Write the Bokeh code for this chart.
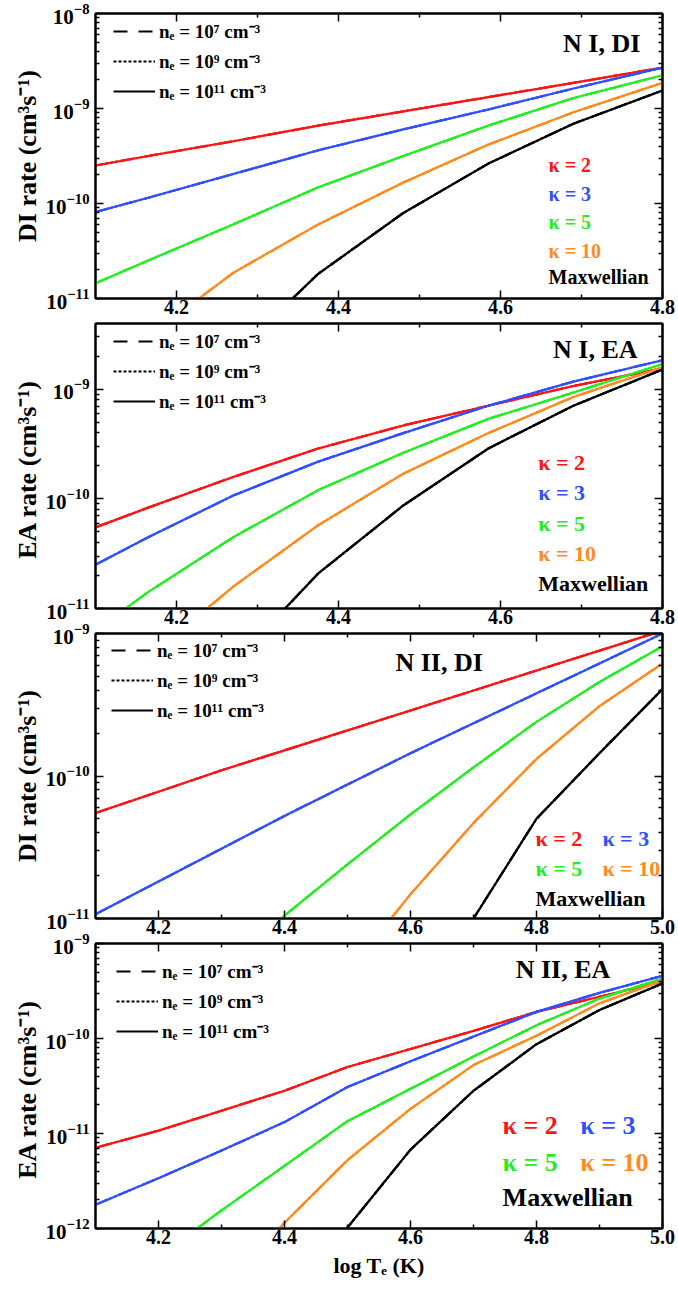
import numpy as np
from bokeh.plotting import figure
from bokeh.layouts import column
from bokeh.models import (Range1d, FixedTicker, LinearAxis, LogAxis, LogTickFormatter,
                          NumeralTickFormatter, CustomJSTickFormatter, Legend, LegendItem, Label)
from bokeh.embed import file_html
from bokeh.resources import INLINE

FONT = "Liberation Serif"

# ---- data: log10 of the rate coefficients (cm^3 s^-1) versus log T_e (K) ----
logT_NI = [4.1, 4.165, 4.27, 4.375, 4.48, 4.585, 4.69, 4.8]
logT_NII = [4.1, 4.2, 4.3, 4.4, 4.5, 4.6, 4.7, 4.8, 4.9, 5.0]

# N I, direct ionization
ni_di_k2 = [-9.60, -9.50, -9.345, -9.18, -9.03, -8.88, -8.73, -8.57]
ni_di_k3 = [-10.09, -9.94, -9.69, -9.44, -9.22, -9.01, -8.79, -8.57]
ni_di_k5 = [-10.84, -10.60, -10.22, -9.83, -9.50, -9.18, -8.89, -8.65]
ni_di_k10 = [-11.60, -11.40, -10.73, -10.22, -9.78, -9.38, -9.04, -8.73]
ni_di_max = [-13.0, -12.5, -11.6, -10.74, -10.10, -9.58, -9.16, -8.81]

# N I, excitation-autoionization
ni_ea_k2 = [-10.26, -10.08, -9.80, -9.54, -9.33, -9.15, -8.97, -8.81]
ni_ea_k3 = [-10.60, -10.35, -9.97, -9.66, -9.40, -9.15, -8.93, -8.735]
ni_ea_k5 = [-11.20, -10.85, -10.35, -9.92, -9.58, -9.27, -9.03, -8.77]
ni_ea_k10 = [-11.80, -11.45, -10.80, -10.24, -9.77, -9.40, -9.07, -8.80]
ni_ea_max = [-13.0, -12.3, -11.5, -10.68, -10.06, -9.54, -9.15, -8.82]

# N II, direct ionization
nii_di_k2 = [-10.26, -10.11, -9.96, -9.82, -9.68, -9.54, -9.40, -9.26, -9.12, -8.98]
nii_di_k3 = [-10.97, -10.74, -10.51, -10.28, -10.06, -9.84, -9.63, -9.42, -9.21, -9.00]
nii_di_k5 = [-12.1, -11.72, -11.35, -10.98, -10.62, -10.27, -9.94, -9.62, -9.34, -9.09]
nii_di_k10 = [-13.6, -13.0, -12.45, -11.92, -11.38, -10.83, -10.33, -9.88, -9.51, -9.21]
nii_di_max = [-15.8, -15.0, -14.2, -13.4, -12.6, -11.8, -11.0, -10.30, -9.84, -9.39]

# N II, excitation-autoionization
nii_ea_k2 = [-11.15, -10.97, -10.76, -10.55, -10.30, -10.11, -9.92, -9.72, -9.56, -9.40]
nii_ea_k3 = [-11.75, -11.47, -11.18, -10.88, -10.51, -10.24, -9.98, -9.72, -9.52, -9.34]
nii_ea_k5 = [-12.8, -12.3, -11.81, -11.34, -10.87, -10.53, -10.19, -9.86, -9.58, -9.37]
nii_ea_k10 = [-14.2, -13.4, -12.7, -11.94, -11.28, -10.74, -10.28, -9.97, -9.63, -9.39]
nii_ea_max = [-16.0, -15.0, -13.9, -12.9, -11.99, -11.17, -10.55, -10.06, -9.70, -9.42]

kappa_names = ["κ = 2", "κ = 3", "κ = 5", "κ = 10", "Maxwellian"]
kappa_colors = ["#ff1414", "#3050ff", "#22ee22", "#ff8a1e", "#000000"]

density_labels = ["nₑ = 10⁷ cm⁻³", "nₑ = 10⁹ cm⁻³", "nₑ = 10¹¹ cm⁻³"]
density_dashes = ["14 11", "3 2", "solid"]

x_ticks_short = [4.2, 4.4, 4.6, 4.8]
x_minor_short = [4.3, 4.5, 4.7]
x_ticks_long = [4.2, 4.4, 4.6, 4.8, 5.0]
x_minor_long = [4.3, 4.5, 4.7, 4.9]

FRAME_W, FRAME_H = 567, 285
TOP, BOTTOM, OVERLAP = 14, 36, 25   # panels share a 25 px gap; canvases overlap


def decade_ticks(lo_exp, hi_exp):
    major = [10.0 ** e for e in range(lo_exp, hi_exp + 1)]
    minor = [m * 10.0 ** e for e in range(lo_exp, hi_exp + 1) for m in range(2, 10)]
    return major, minor


def frame_point(xr, yr, fx, fy_top):
    """Fractional frame position (from left, from top) to data coordinates."""
    x = xr[0] + fx * (xr[1] - xr[0])
    l0, l1 = np.log10(yr[0]), np.log10(yr[1])
    return x, 10 ** (l1 - fy_top * (l1 - l0))


def style_axis(ax, labels=True):
    ax.axis_line_width = 2
    ax.axis_line_color = "black"
    ax.major_tick_in = 8
    ax.major_tick_out = 0
    ax.minor_tick_in = 4
    ax.minor_tick_out = 0
    ax.major_tick_line_width = 1.5
    ax.minor_tick_line_width = 1.5
    ax.major_tick_line_color = "black"
    ax.minor_tick_line_color = "black"
    ax.major_label_text_font = FONT
    ax.major_label_text_font_style = "bold"
    ax.major_label_text_color = "black"
    if not labels:
        ax.formatter = CustomJSTickFormatter(code="return ''")
        ax.major_label_standoff = 0
        ax.major_label_text_font_size = "0px"


def make_panel(title, title_pos, ylabel, logT, series, xr, yr, y_exps, x_ticks, x_minor,
               kappa_pos, kappa_size, legend_loc=(18, 194), first=False, xlabel=None):
    p = figure(frame_width=FRAME_W, frame_height=FRAME_H,
               x_range=Range1d(*xr), y_range=Range1d(*yr), y_axis_type="log",
               output_backend="svg", toolbar_location=None,
               min_border_left=95, min_border_right=16,
               min_border_top=13 if first else TOP,
               min_border_bottom=63 if xlabel else BOTTOM)
    if not first:
        p.styles = {"margin-top": f"-{OVERLAP}px"}
    p.xgrid.visible = False
    p.ygrid.visible = False
    p.outline_line_color = "black"
    p.outline_line_width = 2
    p.background_fill_color = "white"
    p.border_fill_color = None

    ymaj, ymin = decade_ticks(*y_exps)
    xt = FixedTicker(ticks=x_ticks, minor_ticks=x_minor)
    yt = FixedTicker(ticks=ymaj, minor_ticks=ymin)

    xa = p.xaxis[0]
    xa.ticker = xt
    xa.formatter = NumeralTickFormatter(format="0.0")
    style_axis(xa)
    xa.major_label_text_font_size = "20px"
    xa.major_label_standoff = 1
    if xlabel:
        xa.axis_label = xlabel
        xa.axis_label_text_font = FONT
        xa.axis_label_text_font_style = "bold"
        xa.axis_label_text_font_size = "22px"
        xa.axis_label_text_color = "black"
        xa.axis_label_standoff = 6

    ya = p.yaxis[0]
    ya.ticker = yt
    ya.formatter = LogTickFormatter()
    style_axis(ya)
    ya.major_label_text_font_size = "21px"
    ya.major_label_standoff = 6
    ya.axis_label = ylabel
    ya.axis_label_text_font = FONT
    ya.axis_label_text_font_style = "bold"
    ya.axis_label_text_font_size = "26px"
    ya.axis_label_text_color = "black"
    ya.axis_label_standoff = 0

    top = LinearAxis(ticker=xt)
    style_axis(top, labels=False)
    p.add_layout(top, "above")
    right = LogAxis(ticker=yt)
    style_axis(right, labels=False)
    p.add_layout(right, "right")

    # curves: every kappa at three densities (dashed, dotted, solid)
    black = []
    for vals, color in zip(series, kappa_colors):
        rates = [10.0 ** v for v in vals]
        for dash in density_dashes:
            r = p.line(logT, rates, line_color=color, line_width=2.2, line_dash=dash)
            if color == "#000000":
                black.append(r)

    legend = Legend(items=[LegendItem(label=lab, renderers=[r]) for lab, r in zip(density_labels, black)],
                    location=legend_loc, border_line_color=None,
                    background_fill_alpha=0, padding=0, margin=0, spacing=4,
                    glyph_width=42, glyph_height=20, label_height=20, label_standoff=4,
                    label_text_font=FONT, label_text_font_style="bold",
                    label_text_font_size="19px", label_text_color="black")
    p.add_layout(legend)

    tx, ty = frame_point(xr, yr, title_pos[0], title_pos[1])
    p.add_layout(Label(x=tx, y=ty, text=title, text_font=FONT, text_font_style="bold",
                       text_font_size="26px", text_color="black",
                       text_align=title_pos[2], text_baseline="middle"))

    for name, color, (fx, fy) in zip(kappa_names, kappa_colors, kappa_pos):
        lx, ly = frame_point(xr, yr, fx, fy)
        p.add_layout(Label(x=lx, y=ly, text=name, text_font=FONT, text_font_style="bold",
                           text_font_size=kappa_size, text_color=color,
                           text_align="left", text_baseline="middle"))
    return p


p1 = make_panel("N I, DI", (0.961, 0.105, "right"), "DI rate (cm³s⁻¹)", logT_NI,
                [ni_di_k2, ni_di_k3, ni_di_k5, ni_di_k10, ni_di_max],
                (4.1, 4.8), (1e-11, 1e-8), (-11, -8), x_ticks_short, x_minor_short,
                [(0.799, 0.530), (0.799, 0.632), (0.799, 0.733), (0.799, 0.832), (0.799, 0.926)],
                "20px", first=True)

p2 = make_panel("N I, EA", (0.956, 0.091, "right"), "EA  rate (cm³s⁻¹)", logT_NI,
                [ni_ea_k2, ni_ea_k3, ni_ea_k5, ni_ea_k10, ni_ea_max],
                (4.1, 4.8), (1e-11, 10 ** -8.4), (-11, -9), x_ticks_short, x_minor_short,
                [(0.781, 0.488), (0.781, 0.593), (0.781, 0.702), (0.781, 0.807), (0.781, 0.912)],
                "22px")

p3 = make_panel("N II, DI", (0.529, 0.10, "left"), "DI rate (cm³s⁻¹)", logT_NII,
                [nii_di_k2, nii_di_k3, nii_di_k5, nii_di_k10, nii_di_max],
                (4.1, 5.0), (1e-11, 1e-9), (-11, -9), x_ticks_long, x_minor_long,
                [(0.776, 0.719), (0.894, 0.719), (0.776, 0.825), (0.894, 0.825), (0.776, 0.930)],
                "22px", legend_loc=(16, 195))

p4 = make_panel("N II, EA", (0.908, 0.091, "right"), "EA  rate (cm³s⁻¹)", logT_NII,
                [nii_ea_k2, nii_ea_k3, nii_ea_k5, nii_ea_k10, nii_ea_max],
                (4.1, 5.0), (1e-12, 1e-9), (-12, -9), x_ticks_long, x_minor_long,
                [(0.718, 0.639), (0.855, 0.639), (0.718, 0.768), (0.855, 0.768), (0.718, 0.891)],
                "26px", legend_loc=(21, 184), xlabel="log Tₑ (K)")

layout = column(p1, p2, p3, p4)
open("out.html", "w").write(file_html(layout, INLINE))
